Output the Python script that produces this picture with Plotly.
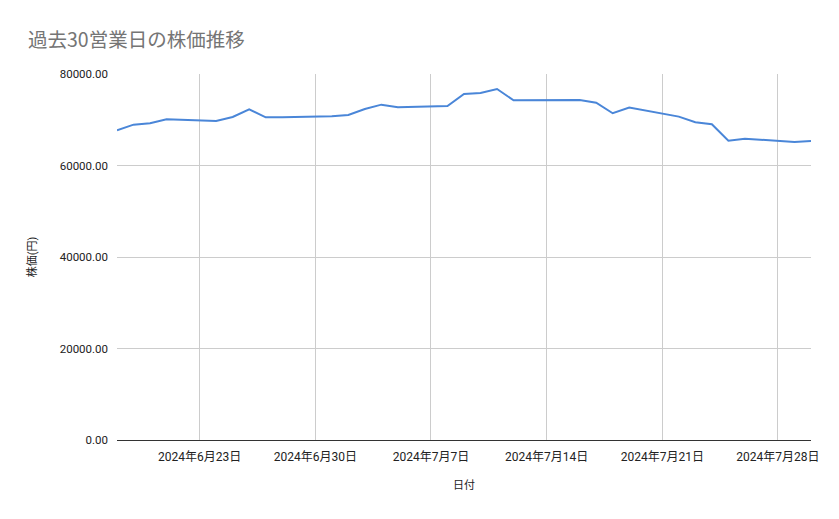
import plotly.graph_objects as go

dates = [
    "2024-06-18", "2024-06-19", "2024-06-20", "2024-06-21",
    "2024-06-24", "2024-06-25", "2024-06-26", "2024-06-27", "2024-06-28",
    "2024-07-01", "2024-07-02", "2024-07-03", "2024-07-04", "2024-07-05",
    "2024-07-08", "2024-07-09", "2024-07-10", "2024-07-11", "2024-07-12",
    "2024-07-16", "2024-07-17", "2024-07-18", "2024-07-19",
    "2024-07-22", "2024-07-23", "2024-07-24", "2024-07-25", "2024-07-26",
    "2024-07-29", "2024-07-30",
]
prices = [
    67700, 68930, 69230, 70100,
    69730, 70610, 72290, 70540, 70560,
    70760, 71040, 72350, 73300, 72720,
    73000, 75630, 75850, 76730, 74250,
    74320, 73740, 71420, 72650,
    70680, 69450, 69010, 65430, 65870,
    65150, 65370,
]
x_tick_vals = ["2024-06-23", "2024-06-30", "2024-07-07", "2024-07-14", "2024-07-21", "2024-07-28"]
x_tick_text = ["2024年6月23日", "2024年6月30日", "2024年7月7日", "2024年7月14日", "2024年7月21日", "2024年7月28日"]
y_tick_vals = [0, 20000, 40000, 60000, 80000]

FONT = "Roboto, 'Noto Sans CJK JP', sans-serif"

fig = go.Figure()
fig.add_trace(go.Scatter(
    x=dates, y=prices, mode="lines",
    line=dict(color="#4a86d8", width=2),
    hoverinfo="x+y",
))

# page body has an 8px margin, so the figure is placed at (8, 8)
fig.update_layout(
    width=823, height=503,
    margin=dict(l=109, r=13, t=66, b=71),
    paper_bgcolor="white", plot_bgcolor="white",
    showlegend=False,
    font=dict(family=FONT, color="#222222", size=11),
    title=dict(
        text="過去30営業日の株価推移",
        x=20 / 823, xanchor="left", y=1 - 32 / 503, yanchor="middle",
        font=dict(family="'Noto Sans CJK JP', Roboto, sans-serif", size=19.5, color="#757575"),
    ),
    xaxis=dict(
        type="date",
        range=["2024-06-18", "2024-07-30"],
        tickvals=x_tick_vals, ticktext=x_tick_text,
        showgrid=True, gridcolor="#cccccc", gridwidth=1,
        showline=False, zeroline=False, ticks="",
        tickfont=dict(size=12, color="#222222"),
        ticklabelstandoff=8,
        title=dict(text="日付", font=dict(size=11, color="#222222"), standoff=18),
    ),
    yaxis=dict(
        range=[0, 80000],
        tickvals=y_tick_vals, tickformat=".2f",
        showgrid=True, gridcolor="#cccccc", gridwidth=1,
        zeroline=True, zerolinecolor="#333333", zerolinewidth=1,
        showline=False, ticks="",
        tickfont=dict(size=11.5, color="#222222"),
        ticklabelstandoff=8,
        title=dict(text="株価(円)", font=dict(size=11, color="#222222"), standoff=20),
    ),
)

fig.write_html("out.html")
